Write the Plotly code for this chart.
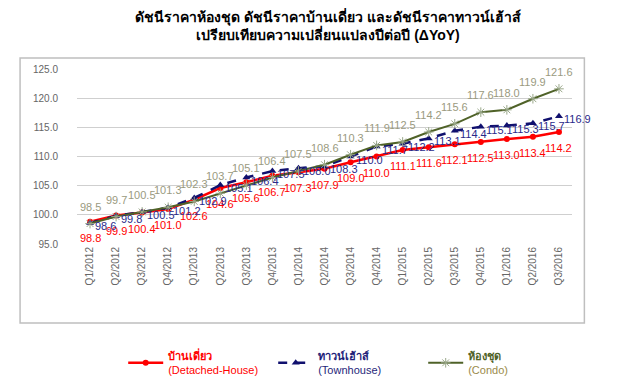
import plotly.graph_objects as go

quarters = ["Q1/2012", "Q2/2012", "Q3/2012", "Q4/2012",
            "Q1/2013", "Q2/2013", "Q3/2013", "Q4/2013",
            "Q1/2014", "Q2/2014", "Q3/2014", "Q4/2014",
            "Q1/2015", "Q2/2015", "Q3/2015", "Q4/2015",
            "Q1/2016", "Q2/2016", "Q3/2016"]

detached = [98.8, 99.9, 100.4, 101.0, 102.6, 104.6, 105.6, 106.7, 107.3, 107.9,
            109.0, 110.0, 111.1, 111.6, 112.1, 112.5, 113.0, 113.4, 114.2]
townhouse = [98.6, 99.8, 100.5, 101.2, 102.9, 105.1, 106.4, 107.5, 108.0, 108.3,
             110.0, 111.7, 112.2, 113.1, 114.4, 115.1, 115.3, 115.7, 116.9]
condo = [98.5, 99.7, 100.5, 101.3, 102.3, 103.7, 105.1, 106.4, 107.5, 108.6,
         110.3, 111.9, 112.5, 114.2, 115.6, 117.6, 118.0, 119.9, 121.6]

y_ticks = [95, 100, 105, 110, 115, 120, 125]

title_text = ("<b>ดัชนีราคาห้องชุด ดัชนีราคาบ้านเดี่ยว และดัชนีราคาทาวน์เฮ้าส์</b><br>"
              "<b>เปรียบเทียบความเปลี่ยนแปลงปีต่อปี (ΔYoY)</b>")

FONT = "Liberation Sans, Arial, Noto Sans, sans-serif"

RED = "#ff0000"
NAVY = "#10106e"
OLIVE = "#4f6228"

fig = go.Figure()

fig.add_trace(go.Scatter(
    x=quarters, y=detached, mode="lines+markers",
    name="<span style='color:#ff0000'><b>บ้านเดี่ยว</b><br>(Detached-House)</span>",
    line=dict(color=RED, width=2.5),
    marker=dict(symbol="circle", size=6, color=RED),
))

fig.add_trace(go.Scatter(
    x=quarters, y=townhouse, mode="lines+markers",
    name="<span style='color:#1f1f7a'><b>ทาวน์เฮ้าส์</b><br>(Townhouse)</span>",
    line=dict(color=NAVY, width=2.5, dash="dash"),
    marker=dict(symbol="triangle-up", size=7, color=NAVY),
))

fig.add_trace(go.Scatter(
    x=quarters, y=condo, mode="lines+markers",
    name="<span style='color:#4f6228'><b>ห้องชุด</b></span><br><span style='color:#9a8a4a'>(Condo)</span>",
    line=dict(color=OLIVE, width=2),
    marker=dict(symbol="asterisk-open", size=8, color="#9aa88a",
                line=dict(color="#9aa88a", width=1)),
))

# data labels through the axes
for q, v in zip(quarters, detached):
    fig.add_annotation(x=q, y=v, text=f"{v:.1f}", showarrow=False,
                       yshift=-16, font=dict(color=RED, size=11, family=FONT))
for q, v in zip(quarters, townhouse):
    fig.add_annotation(x=q, y=v, text=f"{v:.1f}", showarrow=False,
                       xanchor="left", xshift=3, yshift=-3,
                       font=dict(color="#2a2a8a", size=11, family=FONT))
for q, v in zip(quarters, condo):
    fig.add_annotation(x=q, y=v, text=f"{v:.1f}", showarrow=False,
                       yshift=17, font=dict(color="#9a9a80", size=11, family=FONT))

fig.update_layout(
    width=640, height=390,
    margin=dict(l=69, r=76, t=61, b=154, autoexpand=False),
    paper_bgcolor="white", plot_bgcolor="white",
    font=dict(family=FONT, size=11, color="#333333"),
    title=dict(text=title_text, x=0.5, xanchor="center", y=0.965, yanchor="top",
               font=dict(size=14, color="#000000", family=FONT)),
    showlegend=True,
    legend=dict(orientation="h", xref="container", yref="paper",
                x=0.18, xanchor="left", y=-0.56, yanchor="top",
                font=dict(size=11, family=FONT), entrywidth=100,
                itemwidth=35, bgcolor="rgba(0,0,0,0)"),
    shapes=[dict(type="rect", xref="paper", yref="paper",
                 x0=-0.115, x1=1.025, y0=-0.451, y1=1.063,
                 line=dict(color="#bfbfbf", width=1.5), fillcolor="rgba(0,0,0,0)",
                 layer="below")],
)

fig.update_xaxes(
    type="category", range=[-0.5, len(quarters) - 0.5], automargin=False,
    tickangle=-90, showgrid=False, zeroline=False,
    showline=False, ticks="",
    tickfont=dict(size=10, color="#666666", family=FONT),
)
fig.update_yaxes(
    range=[95, 125], tickvals=y_ticks, tickformat=".1f", automargin=False,
    showgrid=True, gridcolor="#cfcfcf", gridwidth=1, zeroline=False,
    showline=False, ticks="", ticklabelstandoff=18,
    tickfont=dict(size=10, color="#666666", family=FONT),
)

fig.write_html("out.html")
